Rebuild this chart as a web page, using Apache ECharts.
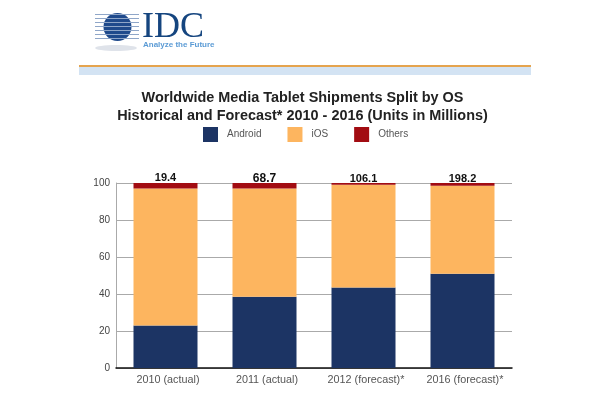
<!DOCTYPE html>
<html>
<head>
<meta charset="utf-8">
<style>html,body{margin:0;padding:0;background:#fff}#main{width:610px;height:400px}</style>
<script src="https://cdn.jsdelivr.net/npm/echarts@6/dist/echarts.min.js"></script>
</head>
<body>
<div id="main"></div>
<script>
var categories = ['2010 (actual)', '2011 (actual)', '2012 (forecast)*', '2016 (forecast)*'];
var android = [23, 38.5, 43.5, 51];
var ios = [74, 58.5, 55.5, 47.5];
var others = [3, 3, 1, 1.5];
var totals = ['19.4', '68.7', '106.1', '198.2'];
var yTicks = [0, 20, 40, 60, 80, 100];

var font = 'Liberation Sans, Arial, sans-serif';
var chart = echarts.init(document.getElementById('main'));

// logo + header band
var globeStripes = [];
var stripeY = [14, 18, 22, 26, 30, 34, 38];
for (var i = 0; i < stripeY.length; i++) {
    globeStripes.push({type: 'rect', shape: {x: 95, y: stripeY[i], width: 44, height: 1}, style: {fill: '#8fa6c8'}});
}

chart.setOption({
    animation: false,
    backgroundColor: '#fff',
    title: {
        text: 'Worldwide Media Tablet Shipments Split by OS\nHistorical and Forecast* 2010 - 2016 (Units in Millions)',
        left: 297.5, top: 84, textAlign: 'center',
        textStyle: {fontFamily: font, fontSize: 14.45, fontWeight: 'bold', color: '#222', lineHeight: 18}
    },
    legend: {
        top: 122, left: 198, itemWidth: 15, itemHeight: 15, itemGap: 26,
        icon: 'rect',
        textStyle: {fontFamily: font, fontSize: 10, color: '#555', padding: [0, 0, 0, 4]},
        data: ['Android', 'iOS', 'Others']
    },
    grid: {left: 116, right: 98, top: 183, bottom: 32},
    xAxis: {
        type: 'category', data: categories,
        axisTick: {show: false},
        axisLine: {lineStyle: {color: '#111', width: 1.5}},
        axisLabel: {fontFamily: font, fontSize: 10.8, color: '#555', margin: 7, interval: 0, padding: [0, 0, 0, 5]}
    },
    yAxis: {
        type: 'value', min: yTicks[0], max: yTicks[yTicks.length - 1], interval: 20,
        axisLine: {show: true, lineStyle: {color: '#aaa'}},
        axisTick: {show: false},
        splitLine: {lineStyle: {color: '#aaa'}},
        axisLabel: {fontFamily: font, fontSize: 10, color: '#444', margin: 6}
    },
    series: [
        {name: 'Android', type: 'bar', stack: 'os', barWidth: 64, data: android, itemStyle: {color: '#1c3464'}},
        {name: 'iOS', type: 'bar', stack: 'os', data: ios, itemStyle: {color: '#fdb55f'}},
        {
            name: 'Others', type: 'bar', stack: 'os', itemStyle: {color: '#a20c12'},
            data: others.map(function (v, i) {
                return {value: v, label: i == 1 ? {fontSize: 12, offset: [0, 1.5]} : (i > 1 ? {offset: [0, 1.5]} : {})};
            }),
            label: {
                show: true, position: 'top', distance: 0,
                fontFamily: font, fontSize: 11, fontWeight: 'bold', color: '#111',
                formatter: function (p) { return totals[p.dataIndex]; }
            }
        }
    ],
    graphic: [
        {type: 'ellipse', shape: {cx: 116, cy: 48, rx: 21, ry: 3}, style: {fill: '#dfe3ea'}},
        {type: 'circle', shape: {cx: 117.5, cy: 27, r: 14}, style: {fill: '#1f4a8c'}}
    ].concat(globeStripes).concat([
        {type: 'text', left: 142, top: 10, style: {text: 'IDC', fontFamily: 'Liberation Serif, serif', fontSize: 36, fill: '#15457f'}},
        {type: 'text', left: 143, top: 41, style: {text: 'Analyze the Future', fontFamily: font, fontSize: 8, fontWeight: 'bold', fill: '#5b9bd5'}},
        {type: 'rect', shape: {x: 79, y: 65, width: 452, height: 2}, style: {fill: '#e5a44e'}},
        {type: 'rect', shape: {x: 79, y: 67, width: 452, height: 8}, style: {fill: '#d3e3f3'}}
    ])
});
</script>
</body>
</html>
